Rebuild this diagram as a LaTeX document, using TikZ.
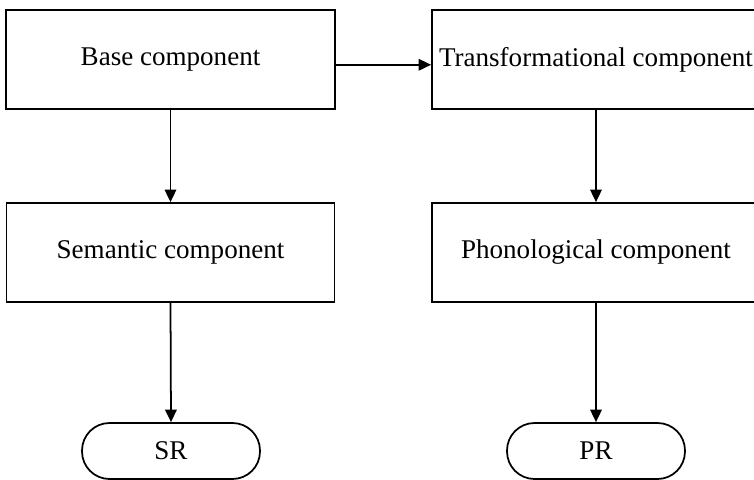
\documentclass[tikz,border=0pt]{standalone}
\usepackage{fontspec}
\setmainfont{Liberation Serif}
\usepackage{tikz}
\usetikzlibrary{arrows.meta,positioning}

\begin{document}
\begin{tikzpicture}[
  x=0.02cm, y=-0.02cm,
  >={Triangle[length=0.25cm, width=0.23cm]}, font=\fontsize{15.4}{17}\selectfont,
  comp/.style={draw=black, line width=1pt, align=center, inner sep=0pt, minimum height=1.98cm},
  rep/.style={draw=black, line width=1pt, rounded corners=0.55cm, align=center, inner sep=0pt, minimum width=3.56cm, minimum height=1.12cm},
  flow/.style={->, line width=1pt},
]
  \clip (0,0) rectangle (754,480);
  \node[comp, minimum width=6.58cm] (base) at (170.5,59.5) {Base component};
  \node[comp, minimum width=6.56cm] (trans) at (596,59.5) {Transformational component};
  \node[comp, minimum width=6.56cm] (sem) at (170.5,252.5) {Semantic component};
  \node[comp, minimum width=6.56cm] (phon) at (596,252.5) {Phonological component};
  \node[rep] (sr) at (171,451) {SR};
  \node[rep] (pr) at (596,451) {PR};
  \draw[flow] ([yshift=-3pt]base.east) -- ([yshift=-3pt]trans.west);
  \draw[flow] (base.south) -- (sem.north);
  \draw[flow] (trans.south) -- (phon.north);
  \draw[flow] (sem.south) -- (sr.north);
  \draw[flow] (phon.south) -- (pr.north);
\end{tikzpicture}
\end{document}
